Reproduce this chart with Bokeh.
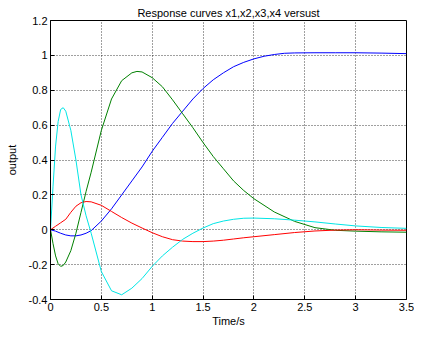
from bokeh.plotting import figure
from bokeh.models import FixedTicker
from bokeh.embed import file_html
from bokeh.resources import INLINE

# ---- data ----
t_x1 = [0, 0.05, 0.1, 0.15, 0.2, 0.25, 0.3, 0.35, 0.4, 0.5, 0.6, 0.7, 0.8, 0.9, 1.0, 1.1, 1.2, 1.3, 1.4, 1.5,
        1.6, 1.7, 1.8, 1.9, 2.0, 2.1, 2.2, 2.3, 2.4, 2.6, 2.8, 3.0, 3.25, 3.5]
x1 = [0, -0.008, -0.02, -0.03, -0.035, -0.035, -0.03, -0.02, -0.005, 0.05, 0.12, 0.2, 0.28, 0.36, 0.45, 0.53,
      0.61, 0.68, 0.75, 0.81, 0.86, 0.9, 0.935, 0.96, 0.98, 0.995, 1.005, 1.012, 1.014, 1.015, 1.015, 1.015,
      1.013, 1.01]

t_x2 = [0, 0.025, 0.05, 0.075, 0.1, 0.125, 0.15, 0.2, 0.25, 0.3, 0.35, 0.4, 0.5, 0.6, 0.7, 0.8, 0.85, 0.9, 1.0,
        1.1, 1.2, 1.3, 1.4, 1.5, 1.6, 1.7, 1.8, 1.9, 2.0, 2.2, 2.4, 2.6, 2.8, 3.0, 3.25, 3.5]
x2 = [0, -0.08, -0.15, -0.195, -0.21, -0.205, -0.185, -0.12, -0.02, 0.1, 0.22, 0.33, 0.57, 0.75, 0.855, 0.9,
      0.908, 0.905, 0.872, 0.82, 0.745, 0.665, 0.585, 0.5, 0.42, 0.35, 0.28, 0.225, 0.178, 0.102, 0.048, 0.012,
      -0.003, -0.008, -0.012, -0.014]

t_x3 = [0, 0.05, 0.1, 0.15, 0.2, 0.25, 0.3, 0.35, 0.4, 0.5, 0.6, 0.7, 0.8, 0.9, 1.0, 1.1, 1.2, 1.3, 1.4, 1.5,
        1.6, 1.7, 1.8, 1.9, 2.0, 2.2, 2.4, 2.6, 2.8, 3.0, 3.25, 3.5]
x3 = [0, 0.02, 0.04, 0.06, 0.1, 0.135, 0.155, 0.162, 0.16, 0.14, 0.105, 0.07, 0.038, 0.01, -0.017, -0.04, -0.057,
      -0.065, -0.068, -0.068, -0.065, -0.06, -0.053, -0.046, -0.04, -0.028, -0.016, -0.007, -0.002, 0.0, -0.002,
      -0.003]

t_x4 = [0, 0.025, 0.05, 0.075, 0.1, 0.125, 0.15, 0.2, 0.25, 0.3, 0.35, 0.4, 0.5, 0.6, 0.7, 0.8, 0.9, 1.0, 1.1,
        1.2, 1.3, 1.4, 1.5, 1.6, 1.7, 1.8, 1.9, 2.0, 2.2, 2.4, 2.6, 2.8, 3.0, 3.25, 3.5]
x4 = [0, 0.25, 0.48, 0.62, 0.69, 0.70, 0.68, 0.57, 0.4, 0.2, 0.08, -0.02, -0.24, -0.35, -0.373, -0.335, -0.28,
      -0.21, -0.15, -0.1, -0.055, -0.02, 0.01, 0.035, 0.05, 0.06, 0.066, 0.067, 0.063, 0.055, 0.045, 0.033,
      0.022, 0.013, 0.008]

x_ticks = [0, 0.5, 1, 1.5, 2, 2.5, 3, 3.5]
x_tick_labels = ["0", "0.5", "1", "1.5", "2", "2.5", "3", "3.5"]
y_ticks = [-0.4, -0.2, 0, 0.2, 0.4, 0.6, 0.8, 1.0, 1.2]
y_tick_labels = ["-0.4", "-0.2", "0", "0.2", "0.4", "0.6", "0.8", "1", "1.2"]

FONT = "Liberation Sans"

p = figure(width=414, height=329, output_backend="svg", toolbar_location=None,
           x_range=(0, 3.5), y_range=(-0.4, 1.2),
           title="Response curves x1,x2,x3,x4 versust",
           min_border_left=50, min_border_right=8, min_border_top=20, min_border_bottom=27)

p.line(t_x1, x1, line_color="#0000FF", line_width=1)
p.line(t_x2, x2, line_color="#008000", line_width=1)
p.line(t_x3, x3, line_color="#FF0000", line_width=1)
p.line(t_x4, x4, line_color="#00E5E5", line_width=1)

p.title.align = "center"
p.title.text_font = FONT
p.title.text_font_size = "11px"
p.title.text_font_style = "normal"
p.title.text_color = "#000000"
p.title.standoff = 3

p.xaxis.ticker = FixedTicker(ticks=x_ticks)
p.yaxis.ticker = FixedTicker(ticks=y_ticks)
p.xaxis.major_label_overrides = {tk: lb for tk, lb in zip(x_ticks, x_tick_labels)}
p.yaxis.major_label_overrides = {tk: lb for tk, lb in zip(y_ticks, y_tick_labels)}
p.xaxis.axis_label = "Time/s"
p.yaxis.axis_label = "output"

for ax in (p.xaxis, p.yaxis):
    ax.major_label_text_font = FONT
    ax.major_label_text_font_size = "11px"
    ax.major_label_text_color = "#000000"
    ax.axis_label_text_font = FONT
    ax.axis_label_text_font_size = "11px"
    ax.axis_label_text_font_style = "normal"
    ax.axis_label_text_color = "#000000"
    ax.axis_line_color = "#000000"
    ax.major_tick_line_color = "#000000"
    ax.major_tick_in = 4
    ax.major_tick_out = 0
    ax.minor_tick_line_color = None
    ax.major_label_standoff = 3
    ax.axis_label_standoff = 1

p.yaxis.axis_label_standoff = 8

p.grid.grid_line_color = "#000000"
p.grid.grid_line_alpha = 0.75
p.grid.grid_line_dash = "1 2"
p.grid.grid_line_width = 1

p.outline_line_color = "#000000"
p.outline_line_width = 1
p.outline_line_alpha = 1
p.background_fill_color = "#FFFFFF"
p.border_fill_color = "#FFFFFF"

open("out.html", "w").write(file_html(p, INLINE))
